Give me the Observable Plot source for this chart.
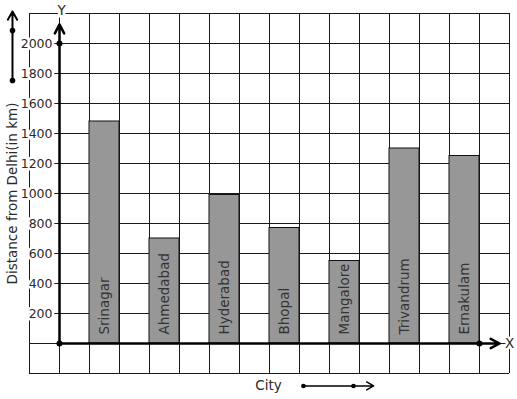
<!DOCTYPE html>
<html>
<head>
<meta charset="utf-8">
<script src="https://cdn.jsdelivr.net/npm/d3@7"></script>
<script src="https://cdn.jsdelivr.net/npm/@observablehq/plot@0.6"></script>
<style>
  html, body { margin: 0; padding: 0; background: white; }
</style>
</head>
<body>
<div id="chart"></div>
<script>
const cities = ["Srinagar", "Ahmedabad", "Hyderabad", "Bhopal", "Mangalore", "Trivandrum", "Ernakulam"];
const distances = [1480, 700, 990, 770, 550, 1300, 1250];
const yTicks = [200, 400, 600, 800, 1000, 1200, 1400, 1600, 1800, 2000];
const yTitle = "Distance from Delhi(in km)";
const xTitle = "City";

// grid layout (cell units): 16 columns, rows of 200 km
const gridCols = d3.range(0, 17);
const gridRows = d3.range(-200, 2201, 200);
const ink = "#1a1a1a";
const textColor = "#2a2a2a";

const chart = Plot.plot({
  width: 517,
  height: 399,
  marginLeft: 29,
  marginRight: 8,
  marginTop: 13,
  marginBottom: 26,
  x: {domain: [0, 16], axis: null},
  y: {domain: [-200, 2200], axis: null},
  style: {fontFamily: "DejaVu Sans", fontSize: "13px", background: "white", overflow: "visible"},
  marks: [
    // grid
    Plot.ruleX(gridCols, {y1: -200, y2: 2200, stroke: ink, strokeWidth: 1}),
    Plot.ruleY(gridRows, {x1: 0, x2: 16, stroke: ink, strokeWidth: 1}),
    // bars
    Plot.rect(cities, {
      x1: (d, i) => 2 + 2 * i,
      x2: (d, i) => 3 + 2 * i,
      y1: 0,
      y2: (d, i) => distances[i],
      fill: "#979797",
      stroke: "#111",
      strokeWidth: 1
    }),
    // bar labels
    Plot.text(cities, {
      x: (d, i) => 2.5 + 2 * i,
      y: 0,
      text: d => d,
      rotate: -90,
      textAnchor: "start",
      lineAnchor: "middle",
      dy: -9,
      fontSize: 13.5,
      fill: "#333"
    }),
    // y tick dashes
    Plot.ruleY(yTicks, {x1: 0.8, x2: 1, stroke: ink, strokeWidth: 1}),
    // y tick labels
    Plot.text(yTicks, {
      x: 1,
      y: d => d,
      text: d => String(d),
      textAnchor: "end",
      dx: -7,
      fontSize: 12.5,
      fill: textColor,
      stroke: "white",
      strokeWidth: 5
    }),
    // axes arrows
    Plot.arrow([{x1: 1, y1: 0, x2: 1, y2: 2127}, {x1: 1, y1: 0, x2: 15.67, y2: 0}], {
      x1: "x1", y1: "y1", x2: "x2", y2: "y2",
      stroke: "#000",
      strokeWidth: 2.5,
      headLength: 6,
      headAngle: 55
    }),
    Plot.dot([{x: 1, y: 0}, {x: 1, y: 2000}, {x: 15, y: 0}], {x: "x", y: "y", r: 3, fill: "#000"}),
    // axis letters
    Plot.text(["Y"], {x: 1.07, y: 2222, text: d => d, fontSize: 13.5, fill: textColor, stroke: "white", strokeWidth: 6}),
    Plot.text(["X"], {x: 16, y: 0, text: d => d, fontSize: 13.5, fill: textColor, stroke: "white", strokeWidth: 5}),
    // decorative left arrow
    Plot.arrow([{x1: -0.567, y1: 1753, x2: -0.567, y2: 2213}], {
      x1: "x1", y1: "y1", x2: "x2", y2: "y2",
      stroke: "#000", strokeWidth: 2, headLength: 7, headAngle: 60
    }),
    Plot.dot([{x: -0.567, y: 1753}, {x: -0.567, y: 2087}], {x: "x", y: "y", r: 2.8, fill: "#000"}),
    // decorative bottom arrow
    Plot.arrow([{x1: 9.13, y1: -283, x2: 11.47, y2: -283}], {
      x1: "x1", y1: "y1", x2: "x2", y2: "y2",
      stroke: "#000", strokeWidth: 1.5, headLength: 8, headAngle: 60
    }),
    Plot.dot([{x: 9.13, y: -283}, {x: 10.8, y: -283}], {x: "x", y: "y", r: 2.3, fill: "#000"}),
    // titles
    Plot.text([yTitle], {x: -0.567, y: 1000, text: d => d, rotate: -90, fontSize: 13.5, fill: textColor}),
    Plot.text([xTitle], {x: 7.97, y: -283, text: d => d, fontSize: 13.5, fill: textColor})
  ]
});
document.getElementById("chart").appendChild(chart);
</script>
</body>
</html>
